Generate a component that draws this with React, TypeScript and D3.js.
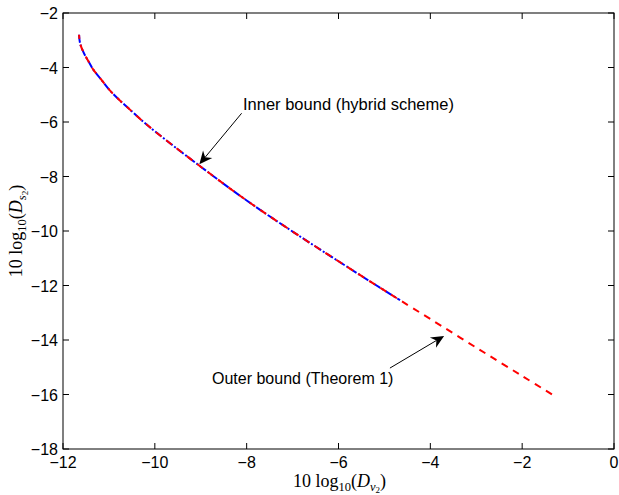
import React from "react";
import * as d3 from "d3";

const outerX = [-11.65, -11.63, -11.56, -11.45, -11.34, -11.15, -10.98, -10.8, -10.61, -10.25, -10.0, -9.5, -9.0, -8.5, -8.0, -7.5, -7.0, -6.5, -6.0, -5.5, -5.0, -4.66, -4.0, -3.0, -2.0, -1.25];
const outerY = [-2.8, -3.1, -3.42, -3.76, -4.08, -4.48, -4.84, -5.15, -5.44, -5.99, -6.34, -7.0, -7.64, -8.27, -8.88, -9.46, -10.02, -10.57, -11.11, -11.65, -12.18, -12.54, -13.23, -14.28, -15.32, -16.1];
const innerX = outerX.slice(0, 22);
const innerY = outerY.slice(0, 22);

const xTicks = [-12, -10, -8, -6, -4, -2, 0];
const yTicks = [-18, -16, -14, -12, -10, -8, -6, -4, -2];

const innerLabel = "Inner bound (hybrid scheme)";
const outerLabel = "Outer bound (Theorem 1)";
// arrow tail / tip in data coordinates
const innerArrow = [[-8.11, -5.68], [-9.03, -7.55]];
const outerArrow = [[-4.88, -15.03], [-3.7, -13.85]];

const W = 619, H = 495;
const L = 63, R = 614, T = 13, B = 449;

function Arrow({ x1, y1, x2, y2 }: { x1: number; y1: number; x2: number; y2: number }) {
  const ang = Math.atan2(y2 - y1, x2 - x1);
  const len = 13, half = 6, notch = 9;
  const ux = Math.cos(ang), uy = Math.sin(ang);
  const px = -uy, py = ux;
  const bx = x2 - ux * len, by = y2 - uy * len;
  const nx = x2 - ux * notch, ny = y2 - uy * notch;
  const pts = [
    [x2, y2],
    [bx + px * half, by + py * half],
    [nx, ny],
    [bx - px * half, by - py * half],
  ];
  return (
    <g>
      <line x1={x1} y1={y1} x2={nx} y2={ny} stroke="#000" strokeWidth={1} />
      <polygon points={pts.map((p) => p.join(",")).join(" ")} fill="#000" />
    </g>
  );
}

export default function App() {
  const x = d3.scaleLinear().domain([-12, 0]).range([L, R]);
  const y = d3.scaleLinear().domain([-18, -2]).range([B, T]);
  const line = d3
    .line<[number, number]>()
    .x((d) => x(d[0]))
    .y((d) => y(d[1]))
    .curve(d3.curveCatmullRom.alpha(0.5));
  const outerPts = outerX.map((v, i) => [v, outerY[i]] as [number, number]);
  const innerPts = innerX.map((v, i) => [v, innerY[i]] as [number, number]);
  const tf = "Liberation Sans, Arial, sans-serif";
  const sf = "Liberation Serif, Times New Roman, serif";
  return (
    <svg width={W} height={H} style={{ position: "absolute", left: 0, top: 0 }}>
      <rect x={0} y={0} width={W} height={H} fill="#fff" />
      <rect x={L} y={T} width={R - L} height={B - T} fill="#fff" />
      <path d={line(innerPts) || ""} fill="none" stroke="#0000ff" strokeWidth={2} strokeDasharray="8,2,2,2" />
      <path d={line(outerPts) || ""} fill="none" stroke="#ff0000" strokeWidth={2} strokeDasharray="7,6" strokeDashoffset={3} />
      <rect x={L} y={T} width={R - L} height={B - T} fill="none" stroke="#000" strokeWidth={1} />
      {xTicks.map((t) => (
        <g key={"x" + t}>
          <line x1={x(t)} x2={x(t)} y1={B} y2={B - 6} stroke="#000" />
          <line x1={x(t)} x2={x(t)} y1={T} y2={T + 6} stroke="#000" />
          <text x={x(t)} y={468} textAnchor="middle" fontFamily={tf} fontSize={16}>
            {t < 0 ? "\u2212" + Math.abs(t) : String(t)}
          </text>
        </g>
      ))}
      {yTicks.map((t) => (
        <g key={"y" + t}>
          <line x1={L} x2={L + 6} y1={y(t)} y2={y(t)} stroke="#000" />
          <line x1={R} x2={R - 6} y1={y(t)} y2={y(t)} stroke="#000" />
          <text x={58} y={y(t) + 6} textAnchor="end" fontFamily={tf} fontSize={16}>
            {"\u2212" + Math.abs(t)}
          </text>
        </g>
      ))}
      <text x={243} y={110} fontFamily={tf} fontSize={16.5}>{innerLabel}</text>
      <text x={212} y={384} fontFamily={tf} fontSize={16}>{outerLabel}</text>
      <Arrow x1={x(innerArrow[0][0])} y1={y(innerArrow[0][1])} x2={x(innerArrow[1][0])} y2={y(innerArrow[1][1])} />
      <Arrow x1={x(outerArrow[0][0])} y1={y(outerArrow[0][1])} x2={x(outerArrow[1][0])} y2={y(outerArrow[1][1])} />
      <text x={(L + R) / 2 + 1} y={487} textAnchor="middle" fontFamily={sf} fontSize={18}>
        <tspan>10 log</tspan>
        <tspan fontSize={12.5} dy={4}>10</tspan>
        <tspan dy={-4}>(</tspan>
        <tspan fontStyle="italic">D</tspan>
        <tspan fontStyle="italic" fontSize={12.5} dy={4}>v</tspan>
        <tspan fontSize={9} dy={2}>2</tspan>
        <tspan dy={-6}>)</tspan>
      </text>
      <text transform={`translate(22,${(T + B) / 2}) rotate(-90)`} textAnchor="middle" fontFamily={sf} fontSize={18}>
        <tspan>10 log</tspan>
        <tspan fontSize={12.5} dy={4}>10</tspan>
        <tspan dy={-4}>(</tspan>
        <tspan fontStyle="italic">D</tspan>
        <tspan fontStyle="italic" fontSize={12.5} dy={4}>s</tspan>
        <tspan fontSize={9} dy={2}>2</tspan>
        <tspan dy={-6}>)</tspan>
      </text>
    </svg>
  );
}
